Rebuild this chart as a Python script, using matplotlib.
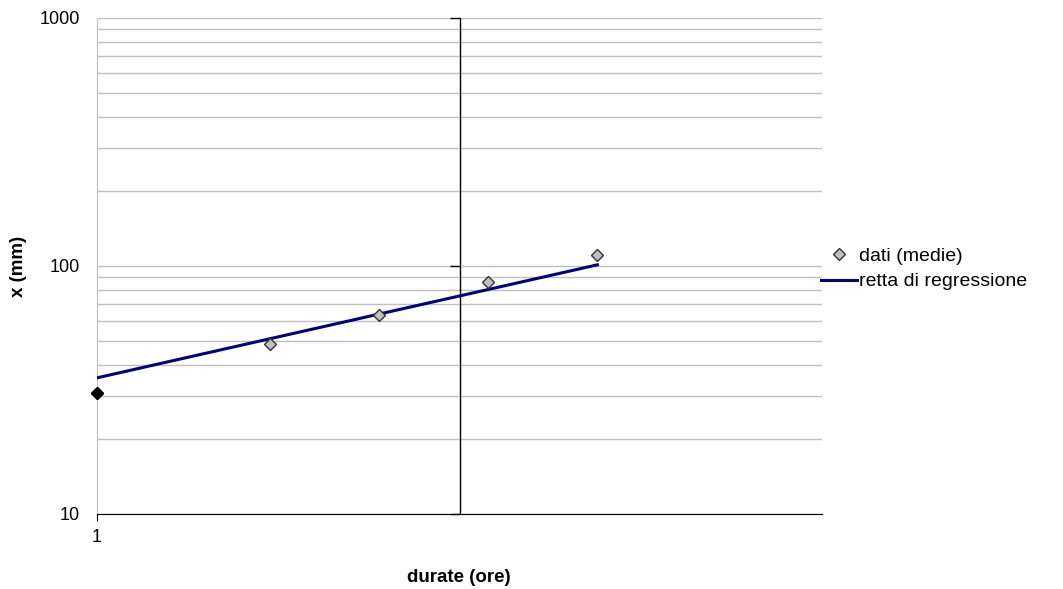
import matplotlib
matplotlib.use("Agg")
import matplotlib.pyplot as plt
from matplotlib import markers
import numpy as np

plt.rcParams['font.family'] = ['Liberation Sans', 'DejaVu Sans']

# durate (ore) e medie delle altezze di pioggia
durate = [1, 3, 6, 12, 24]
medie = [30.8, 48.5, 63.5, 86.0, 110.7]
# retta di regressione letta alle stesse durate
retta = [35.4, 50.9, 64.0, 80.4, 101.1]

y_ticks = [10, 100, 1000]

fig = plt.figure(figsize=(10.63, 5.89), dpi=100)
ax = fig.add_axes([97/1063, 75/589, 725/1063, 496/589])
ax.set_xscale('log')
ax.set_yscale('log')
ax.set_xlim(1, 100)
ax.set_ylim(10, 1000)

grid_col = '#c0c0c0'
ax.yaxis.grid(True, which='both', color=grid_col, lw=1)
ax.set_axisbelow(True)
for s in ['top', 'right']:
    ax.spines[s].set_visible(False)
ax.spines['left'].set_color(grid_col)
ax.spines['bottom'].set_color('black')

ax.set_yticks(y_ticks)
ax.set_yticklabels([str(v) for v in y_ticks])
ax.yaxis.set_minor_formatter(plt.NullFormatter())
ax.tick_params(axis='y', which='both', length=0, pad=12.5, labelsize=13)
ax.set_xticks([1])
ax.set_xticklabels(['1'])
ax.xaxis.set_minor_locator(plt.NullLocator())
ax.tick_params(axis='x', length=5, color='black', labelsize=13, pad=6)

# asse verticale a 10 ore con le sue tacche
ax.axvline(10, color='black', lw=1, zorder=2)
ax.plot([10] * len(y_ticks), y_ticks, ls='none', marker=markers.TICKLEFT,
        ms=7, mew=1, color='black', clip_on=False, zorder=2)

ax.plot(durate, retta, color='#000080', lw=2.2, label='retta di regressione', zorder=3)
ax.plot(durate, medie, ls='none', marker='D', ms=6.5, mfc='#c0c0c0', mec='#333333',
        mew=1, label='dati (medie)', zorder=4, clip_on=False)
ax.plot(durate[:1], medie[:1], ls='none', marker='D', ms=6.5, mfc='black', mec='black',
        zorder=5, clip_on=False)

ax.set_xlabel('durate (ore)', fontsize=13.5, fontweight='bold')
ax.xaxis.set_label_coords(459/1063, 20/589, transform=fig.transFigure)
ax.set_ylabel('x (mm)', fontsize=13.5, fontweight='bold')
ax.yaxis.set_label_coords(27/1063, 323/589, transform=fig.transFigure)

h, l = ax.get_legend_handles_labels()
ax.legend([h[1], h[0]], [l[1], l[0]], loc='center left',
          bbox_to_anchor=(811/1063, 320/589), bbox_transform=fig.transFigure,
          frameon=False, fontsize=14, handlelength=1.85, handletextpad=0.1,
          labelspacing=0.4, borderpad=0)

fig.savefig('out.png', dpi=100)
